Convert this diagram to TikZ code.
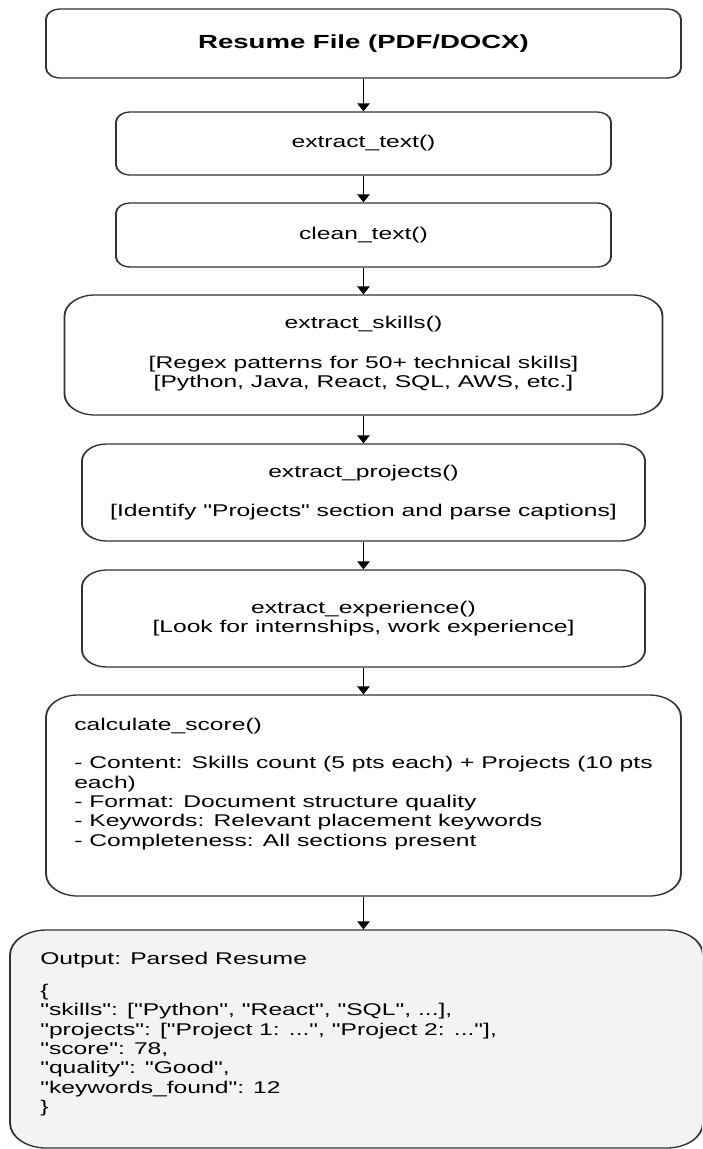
\documentclass[tikz,border=0pt]{standalone}
\usepackage{fontspec}
\setmainfont{Liberation Sans}[Ligatures=TeXOff]
\usetikzlibrary{arrows.meta}
\definecolor{edgec}{HTML}{333333}
\definecolor{outfill}{HTML}{F3F3F3}
\tikzset{
  box/.style={draw=edgec, line width=1.3pt, fill=white, inner sep=0pt, align=center,
    font=\fontsize{17}{19.3}\selectfont},
  flow/.style={draw=black, line width=1.3pt, -{Triangle[length=8pt,width=8.5pt]}},
  txt/.style={inner sep=0pt, align=left, anchor=north west,
    font=\fontsize{17}{19.3}\selectfont}
}
\begin{document}
\begin{tikzpicture}[x=1pt,y=-1pt]
\path[use as bounding box, fill=white] (0,0) rectangle (702,1149);
\clip (0,0) rectangle (702,1149);
\begin{scope}[transform canvas={xscale=1.45}, x=0.689655pt, y=-1pt]
\node[box, rounded corners=10pt, minimum width=437.9pt, minimum height=69pt,
  font=\fontsize{19}{22}\selectfont\bfseries] (b1) at (363.5,43.5) {Resume File (PDF/DOCX)};
\node[box, rounded corners=10pt, minimum width=341.4pt, minimum height=63pt] (b2) at (363.5,143.5) {extract\_text()};
\node[box, rounded corners=10pt, minimum width=341.4pt, minimum height=64pt] (b3) at (363.5,235) {clean\_text()};
\node[box, rounded corners=21pt, minimum width=412.4pt, minimum height=120pt, text depth=6pt] (b4) at (363.5,355)
  {extract\_skills()\\[21pt]{[}Regex patterns for 50+ technical skills]\\{[}Python, Java, React, SQL, AWS, etc.]};
\node[box, rounded corners=17pt, minimum width=388.3pt, minimum height=97pt] (b5) at (363.5,492.5)
  {extract\_projects()\\[19.3pt]{[}Identify "Projects" section and parse captions]};
\node[box, rounded corners=17pt, minimum width=388.3pt, minimum height=97pt] (b6) at (363.5,618.5)
  {extract\_experience()\\{[}Look for internships, work experience]};
\node[box, rounded corners=22pt, minimum width=437.9pt, minimum height=201pt] (b7) at (363.5,795.5) {};
\node[txt] (t7) at (74,716.5) {\strut calculate\_score()\\[19.3pt]
- Content: Skills count (5 pts each) + Projects (10 pts\\
each)\\
- Format: Document structure quality\\
- Keywords: Relevant placement keywords\\
- Completeness: All sections present};
\node[box, fill=outfill, rounded corners=25pt, minimum width=477.9pt, minimum height=218pt] (b8) at (356.5,1039) {};
\node[txt] (t8) at (40,950.5) {\strut Output: Parsed Resume\\[13pt]
\{\\
"skills": ["Python", "React", "SQL", ...],\\
"projects": ["Project 1: ...", "Project 2: ..."],\\
"score": 78,\\
"quality": "Good",\\
"keywords\_found": 12\\
\}};
\draw[flow] (b1.south) -- (b1.south |- b2.north);
\draw[flow] (b2.south) -- (b2.south |- b3.north);
\draw[flow] (b3.south) -- (b3.south |- b4.north);
\draw[flow] (b4.south) -- (b4.south |- b5.north);
\draw[flow] (b5.south) -- (b5.south |- b6.north);
\draw[flow] (b6.south) -- (b6.south |- b7.north);
\draw[flow] (b7.south) -- (b7.south |- b8.north);
\end{scope}
\end{tikzpicture}
\end{document}
